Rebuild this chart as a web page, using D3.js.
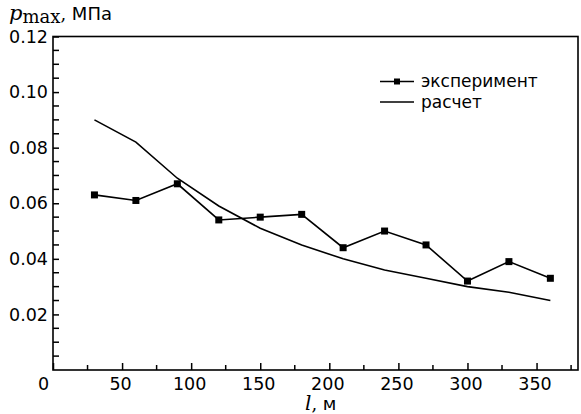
<!DOCTYPE html>
<html>
<head>
<meta charset="utf-8">
<script src="https://cdn.jsdelivr.net/npm/d3@7"></script>
<style>
  body { margin: 0; background: #fff; }
  svg { display: block; }
</style>
</head>
<body>
<svg></svg>
<script>
// sizes
let width = 581
let height = 414
let margin = { left: 53, right: 3, top: 36.5, bottom: 44 }

// data
const lengths = [30, 60, 90, 120, 150, 180, 210, 240, 270, 300, 330, 360]
const experiment = [0.063, 0.061, 0.067, 0.054, 0.055, 0.056, 0.044, 0.050, 0.045, 0.032, 0.039, 0.033]
const calculation = [0.090, 0.082, 0.069, 0.059, 0.051, 0.045, 0.040, 0.036, 0.033, 0.030, 0.028, 0.025]
const xTicks = [0, 50, 100, 150, 200, 250, 300, 350]
const yTicks = [0.02, 0.04, 0.06, 0.08, 0.10, 0.12]
const legendNames = ['эксперимент', 'расчет']

let svg = d3.select('svg').attr('width', width).attr('height', height)

let xScale = d3.scaleLinear().domain([0, 380]).range([margin.left, width - margin.right])
let yScale = d3.scaleLinear().domain([0, 0.12]).range([height - margin.bottom, margin.top])

const font = '"DejaVu Sans", sans-serif'
const serif = '"DejaVu Serif", "Liberation Serif", serif'

// frame
svg.append('rect')
   .attr('x', xScale(0)).attr('y', yScale(0.12))
   .attr('width', xScale(380) - xScale(0))
   .attr('height', yScale(0) - yScale(0.12))
   .attr('fill', 'none').attr('stroke', '#000').attr('stroke-width', 1.6)

// x axis, ticks point inward
let xAxis = d3.axisBottom(xScale).tickValues(xTicks).tickSize(-7).tickFormat(d3.format('d'))
let gx = svg.append('g')
   .attr('transform', 'translate(0,' + yScale(0) + ')')
   .call(xAxis)
gx.select('.domain').remove()
gx.selectAll('line').attr('stroke-width', 1.5)
gx.selectAll('text')
  .attr('y', 8).attr('dy', '0.71em').attr('dx', -2)
  .style('font-family', font).style('font-size', '17.5px').attr('fill', '#000')
gx.selectAll('text').filter(d => d === 0).attr('dx', -10)

let xMinor = d3.range(25, 380, 50)
svg.append('g').selectAll('line').data(xMinor).enter().append('line')
   .attr('x1', d => xScale(d)).attr('x2', d => xScale(d))
   .attr('y1', yScale(0)).attr('y2', yScale(0) - 5)
   .attr('stroke', '#000').attr('stroke-width', 1.5)

// y axis
let yAxis = d3.axisLeft(yScale).tickValues(yTicks).tickSize(-6).tickFormat(d3.format('.2f'))
let gy = svg.append('g')
   .attr('transform', 'translate(' + xScale(0) + ',0)')
   .call(yAxis)
gy.select('.domain').remove()
gy.selectAll('line').attr('stroke-width', 1.5)
gy.selectAll('text')
  .attr('x', -5)
  .style('font-family', font).style('font-size', '17.5px').attr('fill', '#000')

let yMinor = d3.range(0.005, 0.12, 0.005).filter(v => Math.abs(v / 0.02 - Math.round(v / 0.02)) > 0.01)
svg.append('g').selectAll('line').data(yMinor).enter().append('line')
   .attr('x1', xScale(0)).attr('x2', xScale(0) + 6)
   .attr('y1', d => yScale(d)).attr('y2', d => yScale(d))
   .attr('stroke', '#000').attr('stroke-width', 1.5)

// lines
let line = d3.line().x((d, i) => xScale(lengths[i])).y(d => yScale(d))

svg.append('path').datum(calculation)
   .attr('d', line).attr('fill', 'none').attr('stroke', '#000').attr('stroke-width', 1.6)

svg.append('path').datum(experiment)
   .attr('d', line).attr('fill', 'none').attr('stroke', '#000').attr('stroke-width', 1.6)

svg.append('g').selectAll('rect').data(experiment).enter().append('rect')
   .attr('x', (d, i) => xScale(lengths[i]) - 3.5)
   .attr('y', d => yScale(d) - 3.5)
   .attr('width', 7).attr('height', 7).attr('fill', '#000')

// legend
let legend = svg.append('g')
legendNames.forEach((name, i) => {
    let y = 81.5 + i * 20.5
    legend.append('line').attr('x1', 380).attr('x2', 414).attr('y1', y).attr('y2', y)
          .attr('stroke', '#000').attr('stroke-width', 1.6)
    if (i === 0) {
        legend.append('rect').attr('x', 394).attr('y', y - 3).attr('width', 6).attr('height', 6).attr('fill', '#000')
    }
    legend.append('text').attr('x', 421).attr('y', y).attr('dy', '0.33em')
          .style('font-family', font).style('font-size', '17px').text(name)
})

// axis titles
let yTitle = svg.append('text').attr('x', 9).attr('y', 20)
   .style('font-size', '18px')
yTitle.append('tspan').style('font-family', serif).style('font-style', 'italic').attr('font-size', '21px').text('p')
yTitle.append('tspan').style('font-family', serif).attr('dy', 3).attr('font-size', '18px').text('max')
yTitle.append('tspan').style('font-family', serif).attr('dy', -3).text(', ')
yTitle.append('tspan').style('font-family', font).text('МПа')

let xTitle = svg.append('text').attr('x', 305).attr('y', 410)
   .style('font-size', '18px')
xTitle.append('tspan').style('font-family', serif).style('font-style', 'italic').attr('font-size', '20px').text('l')
xTitle.append('tspan').style('font-family', serif).text(', ')
xTitle.append('tspan').style('font-family', font).text('м')
</script>
</body>
</html>
